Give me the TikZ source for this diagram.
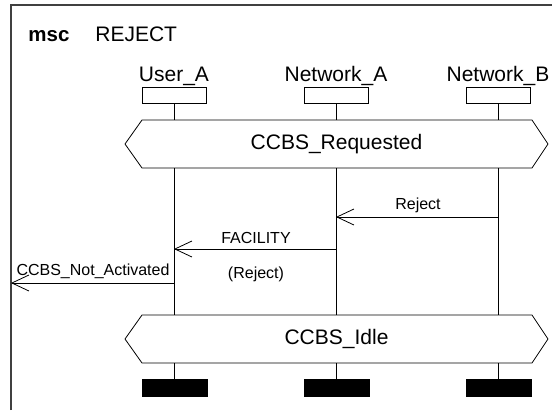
\documentclass[tikz,border=0pt]{standalone}
\usepackage{fontspec}
\setmainfont{Liberation Sans}
\usetikzlibrary{arrows.meta}
\begin{document}
\begin{tikzpicture}[x=1pt,y=-1pt, line width=0.8pt,
  headbox/.style={draw, minimum width=64pt, minimum height=16pt, inner sep=0pt},
  stopbox/.style={fill=black, draw=black, minimum width=65pt, minimum height=17pt, inner sep=0pt},
  instlbl/.style={font=\fontsize{21}{24}\selectfont, anchor=base, inner sep=0pt},
  msglbl/.style={font=\fontsize{16}{19}\selectfont, inner sep=0pt},
  condlbl/.style={font=\fontsize{21}{24}\selectfont, inner sep=0pt},
  cond/.style={draw, line width=0.8pt},
  msgarrow/.style={-{Straight Barb[length=17pt,width=16pt,line width=0.8pt]}}]
\useasboundingbox (0,0) rectangle (552,410);
% frame
\draw[line width=1.2pt, black!75] (11,410) -- (11,5) -- (552,5);
\node[anchor=base west, inner sep=0pt, font=\bfseries\fontsize{20.5}{24}\selectfont] (msc) at (28,41) {msc};
\node[anchor=base west, inner sep=0pt, font=\fontsize{21}{24}\selectfont] (title) at (95,41) {REJECT};
% instance heads
\node[instlbl] (lA) at (174,81) {User\_A};
\node[instlbl] (lN) at (336,81) {Network\_A};
\node[instlbl] (lB) at (498,81) {Network\_B};
\node[headbox] (hA) at (174,95) {};
\node[headbox] (hN) at (336,95) {};
\node[headbox] (hB) at (498,95) {};
% conditions
\draw[cond] (125,144) -- (142,120) -- (532,120) -- (548,144) -- (532,168) -- (142,168) -- cycle;
\node[condlbl] (req) at (336.5,144) {CCBS\_Requested};
\draw[cond] (125,339) -- (142,315) -- (532,315) -- (548,339) -- (532,363) -- (142,363) -- cycle;
\node[condlbl] (idle) at (336.5,339) {CCBS\_Idle};
% stop boxes
\node[stopbox] (sA) at (174.5,388) {};
\node[stopbox] (sN) at (336.5,388) {};
\node[stopbox] (sB) at (498.5,388) {};
% coordinates on lifelines
\coordinate (rAt) at (174,120); \coordinate (rAb) at (174,168);
\coordinate (rNt) at (336,120); \coordinate (rNb) at (336,168);
\coordinate (rBt) at (498,120); \coordinate (rBb) at (498,168);
\coordinate (iAt) at (174,315); \coordinate (iAb) at (174,363);
\coordinate (iNt) at (336,315); \coordinate (iNb) at (336,363);
\coordinate (iBt) at (498,315); \coordinate (iBb) at (498,363);
\coordinate (sAt) at (174,379); \coordinate (sNt) at (336,379); \coordinate (sBt) at (498,379);
% lifelines
\draw (hA.south) -- (rAt); \draw (rAb) -- (iAt); \draw (iAb) -- (sAt);
\draw (hN.south) -- (rNt); \draw (rNb) -- (iNt); \draw (iNb) -- (sNt);
\draw (hB.south) -- (rBt); \draw (rBb) -- (iBt); \draw (iBb) -- (sBt);
% messages
\coordinate (m1s) at (498,217); \coordinate (m1e) at (336,217);
\coordinate (m2s) at (336,249); \coordinate (m2e) at (174,249);
\coordinate (m3s) at (174,283); \coordinate (m3e) at (11,283);
\draw[msgarrow] (m1s) -- (m1e);
\node[msglbl] (t1) at (418,205) {Reject};
\draw[msgarrow] (m2s) -- (m2e);
\node[msglbl] (t2) at (256,238) {FACILITY};
\node[msglbl] (t2b) at (256,274) {(Reject)};
\draw[msgarrow] (m3s) -- (m3e);
\node[msglbl] (t3) at (93,271) {CCBS\_Not\_Activated};
\end{tikzpicture}
\end{document}
